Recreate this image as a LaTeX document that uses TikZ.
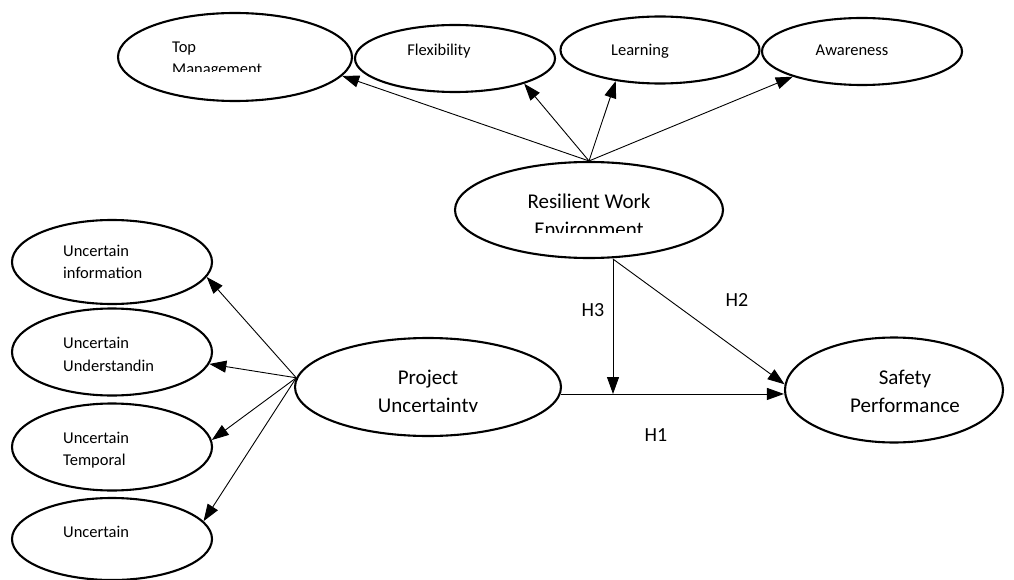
\documentclass[tikz,border=0pt]{standalone}
\usepackage{fontspec}
\setmainfont{Carlito}
\usetikzlibrary{shapes.geometric,arrows.meta}

\begin{document}
\begin{tikzpicture}[x=1pt,y=-1pt,
  construct/.style={draw,ellipse,line width=2.1pt,inner sep=0pt},
  link/.style={line width=0.9pt,-{Triangle[length=17pt,width=12pt]}},
  smalltxt/.style={font=\fontsize{16.5}{20}\selectfont,inner sep=0pt},
  bigtxt/.style={font=\fontsize{21}{25}\selectfont,inner sep=0pt},
  hyp/.style={font=\fontsize{20}{24}\selectfont,inner sep=0pt}]
\useasboundingbox (0,0) rectangle (1014,580);

% first-order dimensions of the resilient work environment
\node[construct,minimum width=234pt,minimum height=88pt] (tm) at (235,57) {};
\node[construct,minimum width=200pt,minimum height=67pt] (fx) at (455,58.5) {};
\node[construct,minimum width=199pt,minimum height=67pt] (lr) at (660,50) {};
\node[construct,minimum width=200pt,minimum height=67pt] (aw) at (862,51.5) {};

% main constructs
\node[construct,minimum width=268pt,minimum height=96pt] (rwe) at (589,210) {};
\node[construct,minimum width=266pt,minimum height=98pt] (pu) at (428,387) {};
\node[construct,minimum width=218pt,minimum height=105pt] (sp) at (894,390) {};

% dimensions of project uncertainty
\node[construct,minimum width=200pt,minimum height=84pt] (ui) at (112,262) {};
\node[construct,minimum width=200pt,minimum height=87pt] (uu) at (112,352) {};
\node[construct,minimum width=200pt,minimum height=87pt] (ut) at (112,447) {};
\node[construct,minimum width=200pt,minimum height=82pt] (ux) at (112,539) {};

% labels inside the ellipses
\node[smalltxt,anchor=base west] (tmA) at (172,53) {Top};
\begin{scope}
  \clip (120,0) rectangle (350,72);
  \node[smalltxt,anchor=base west] (tmB) at (172,75) {Management};
\end{scope}
\node[smalltxt,anchor=base] (fxA) at (439,56) {Flexibility};
\node[smalltxt,anchor=base] (lrA) at (640,56) {Learning};
\node[smalltxt,anchor=base] (awA) at (852,56) {Awareness};

\node[bigtxt,anchor=base] (rweA) at (589,208) {Resilient Work};
\begin{scope}
  \clip (460,150) rectangle (720,232);
  \node[bigtxt,anchor=base] (rweB) at (589,236) {Environment};
\end{scope}

\node[bigtxt,anchor=base] (puA) at (428,384) {Project};
\begin{scope}
  \clip (300,330) rectangle (560,411);
  \node[bigtxt,anchor=base] (puB) at (428,412) {Uncertainty};
\end{scope}

\node[bigtxt,anchor=base] (spA) at (905,384) {Safety};
\node[bigtxt,anchor=base] (spB) at (905,412) {Performance};

\node[smalltxt,anchor=base west] (uiA) at (63,256) {Uncertain};
\node[smalltxt,anchor=base west] (uiB) at (63,278) {information};
\node[smalltxt,anchor=base west] (uuA) at (63,348) {Uncertain};
\node[smalltxt,anchor=base west] (uuB) at (63,371) {Understandin};
\node[smalltxt,anchor=base west] (utA) at (63,443) {Uncertain};
\node[smalltxt,anchor=base west] (utB) at (63,465) {Temporal};
\node[smalltxt,anchor=base west] (uxA) at (63,537) {Uncertain};

% hypothesis labels
\node[hyp,anchor=base] (h1) at (656,441) {H1};
\node[hyp,anchor=base] (h2) at (737,306) {H2};
\node[hyp,anchor=base] (h3) at (593,316) {H3};

% reflective indicators of the resilient work environment
\draw[link] (rwe.north) -- (tm.-10.5);
\draw[link] (rwe.north) -- (fx.-20.5);
\draw[link] (rwe.north) -- (lr.-145.5);
\draw[link] (rwe.north) -- (aw.-160.3);

% reflective indicators of project uncertainty
\draw[link] (pu.176) -- (ui.-9.5);
\draw[link] (pu.176) -- (uu.-7.4);
\draw[link] (pu.176) -- (ut.4);
\draw[link] (pu.176) -- (ux.11.9);

% structural paths
\coordinate (mod) at (613,394);
\draw[link] (pu.-3) -- (pu.-3 -| sp.west);
\draw[link] (rwe.south -| mod) -- (mod);
\draw[link] (rwe.south -| mod) -- (sp.177.4);
\end{tikzpicture}
\end{document}
